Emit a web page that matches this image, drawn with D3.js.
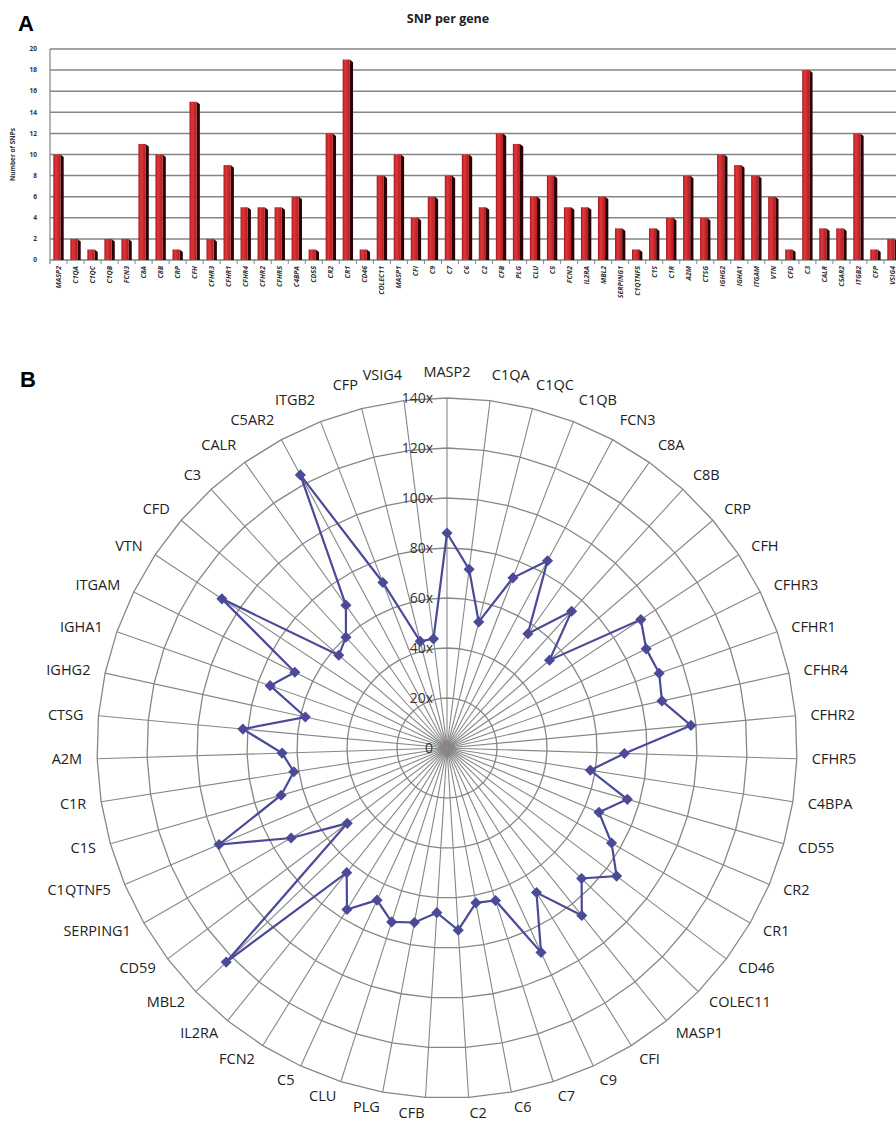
<!DOCTYPE html>
<html>
<head>
<meta charset="utf-8">
<script src="https://cdn.jsdelivr.net/npm/d3@7"></script>
<style>
  body { margin: 0; background: #fff; }
  svg { display: block; }
</style>
</head>
<body>
<script>
// ---- panel A data ----
var barGenes = ["MASP2","C1QA","C1QC","C1QB","FCN3","C8A","C8B","CRP","CFH","CFHR3",
  "CFHR1","CFHR4","CFHR2","CFHR5","C4BPA","CD55","CR2","CR1","CD46","COLEC11",
  "MASP1","CFI","C9","C7","C6","C2","CFB","PLG","CLU","C5",
  "FCN2","IL2RA","MBL2","SERPING1","C1QTNF5","C1S","C1R","A2M","CTSG","IGHG2",
  "IGHA1","ITGAM","VTN","CFD","C3","CALR","C5AR2","ITGB2","CFP","VSIG4"]
var snpCounts = [10,2,1,2,2,11,10,1,15,2,
  9,5,5,5,6,1,12,19,1,8,
  10,4,6,8,10,5,12,11,6,8,
  5,5,6,3,1,3,4,8,4,10,
  9,8,6,1,18,3,3,12,1,2]
var barTicks = [0,2,4,6,8,10,12,14,16,18,20]

// ---- panel B data ----
var radarGenes = ["MASP2","C1QA","C1QC","C1QB","FCN3","C8A","C8B","CRP","CFH","CFHR3",
  "CFHR1","CFHR4","CFHR2","CFHR5","C4BPA","CD55","CR2","CR1","CD46","COLEC11",
  "MASP1","CFI","C9","C7","C6","C2","CFB","PLG","CLU","C5",
  "FCN2","IL2RA","MBL2","CD59","SERPING1","C1QTNF5","C1S","C1R","A2M","CTSG",
  "IGHG2","IGHA1","ITGAM","VTN","CFD","C3","CALR","C5AR2","ITGB2","CFP","VSIG4"]
var coverage = [86,72,52,73,85,56,74,54,93,89,
  90,88,98,71,58,75,66,76,85,75,
  86,68,90,64,63,73,66,71,73,67,
  76,64,123,50,72,99,69,62,66,82,
  58,75,68,108,57,60,70,124,71,44,44]
var ringTicks = [0,20,40,60,80,100,120,140]

var svg = d3.select("body").append("svg")
  .attr("width", 896)
  .attr("height", 1127)

// ================= A: bar chart =================
var x = d3.scaleBand().domain(barGenes).range([50, 901])
var y = d3.scaleLinear().domain([0, 20]).range([260, 49])

var gA = svg.append("g")

gA.append("text")
  .attr("x", 18).attr("y", 31)
  .attr("font-family", "Liberation Sans, Arial, sans-serif")
  .attr("font-weight", "bold")
  .attr("font-size", 22)
  .text("A")

gA.append("text")
  .attr("x", 448).attr("y", 23)
  .attr("text-anchor", "middle")
  .attr("font-family", "Open Sans, sans-serif")
  .attr("font-weight", "bold")
  .attr("font-size", 12.5)
  .attr("fill", "#222")
  .text("SNP per gene")

// gridlines
gA.selectAll("line.grid")
  .data(barTicks)
  .enter().append("line")
  .attr("class", "grid")
  .attr("x1", 50).attr("x2", 896)
  .attr("y1", function(d) { return y(d) })
  .attr("y2", function(d) { return y(d) })
  .attr("stroke", "#858585")
  .attr("stroke-width", 1.5)

gA.append("line")
  .attr("x1", 50).attr("x2", 50)
  .attr("y1", y(20)).attr("y2", y(0) + 4)
  .attr("stroke", "#858585").attr("stroke-width", 1.2)

// x tick marks between bars
gA.selectAll("line.xtick")
  .data(barGenes)
  .enter().append("line")
  .attr("class", "xtick")
  .attr("x1", function(d) { return x(d) + x.bandwidth() })
  .attr("x2", function(d) { return x(d) + x.bandwidth() })
  .attr("y1", y(0)).attr("y2", y(0) + 4)
  .attr("stroke", "#858585").attr("stroke-width", 1)

// y tick labels
gA.selectAll("text.ytick")
  .data(barTicks)
  .enter().append("text")
  .attr("class", "ytick")
  .attr("x", 37)
  .attr("y", function(d) { return y(d) })
  .attr("dy", "0.35em")
  .attr("text-anchor", "end")
  .attr("font-family", "Open Sans, sans-serif")
  .attr("font-weight", "bold")
  .attr("font-size", 6.5)
  .attr("fill", "#333")
  .text(function(d) { return d })

gA.append("text")
  .attr("transform", "translate(15," + y(10) + ") rotate(-90)")
  .attr("text-anchor", "middle")
  .attr("font-family", "Open Sans, sans-serif")
  .attr("font-weight", "bold")
  .attr("font-size", 6.5)
  .attr("fill", "#333")
  .text("Number of SNPs")

// 3D-ish bars
var defs = svg.append("defs")
var grad = defs.append("linearGradient").attr("id", "barFront")
  .attr("x1", "0").attr("x2", "1").attr("y1", "0").attr("y2", "0")
grad.append("stop").attr("offset", "0%").attr("stop-color", "#a8181c")
grad.append("stop").attr("offset", "35%").attr("stop-color", "#e0363a")
grad.append("stop").attr("offset", "100%").attr("stop-color", "#b11c20")

var bw = x.bandwidth()
var frontW = bw * 0.42
var depth = bw * 0.19
var off = (bw - frontW - depth) / 2

var bars = gA.selectAll("g.bar")
  .data(barGenes)
  .enter().append("g")
  .attr("class", "bar")

bars.append("path")
  .attr("fill", "#2a0405")
  .attr("d", function(d, i) {
    var x0 = x(d) + off + frontW, top = y(snpCounts[i])
    return "M" + x0 + "," + top + "L" + (x0 + depth) + "," + (top + depth * 0.8) +
      "L" + (x0 + depth) + "," + y(0) + "L" + x0 + "," + y(0) + "Z"
  })

bars.append("rect")
  .attr("x", function(d) { return x(d) + off })
  .attr("y", function(d, i) { return y(snpCounts[i]) })
  .attr("width", frontW)
  .attr("height", function(d, i) { return y(0) - y(snpCounts[i]) })
  .attr("fill", "url(#barFront)")

// rotated italic gene labels
gA.selectAll("text.xlab")
  .data(barGenes)
  .enter().append("text")
  .attr("class", "xlab")
  .attr("transform", function(d) {
    return "translate(" + (x(d) + bw / 2 + 2.5) + "," + (y(0) + 6) + ") rotate(-90)"
  })
  .attr("text-anchor", "end")
  .attr("font-family", "Open Sans, sans-serif")
  .attr("font-style", "italic")
  .attr("font-weight", "bold")
  .attr("font-size", 7)
  .attr("fill", "#333")
  .text(function(d) { return d })

// ================= B: radar chart =================
var cx = 447, cy = 748
var r = d3.scaleLinear().domain([0, 140]).range([0, 350])
var n = radarGenes.length
function ang(i) { return i * 2 * Math.PI / n }

var gB = svg.append("g")

gB.append("text")
  .attr("x", 20).attr("y", 387)
  .attr("font-family", "Liberation Sans, Arial, sans-serif")
  .attr("font-weight", "bold")
  .attr("font-size", 22)
  .text("B")

var ringLine = d3.lineRadial()
  .angle(function(d, i) { return ang(i) })
  .radius(function(d) { return d })
  .curve(d3.curveLinearClosed)

// rings
gB.selectAll("path.ring")
  .data(ringTicks.slice(1))
  .enter().append("path")
  .attr("class", "ring")
  .attr("transform", "translate(" + cx + "," + cy + ")")
  .attr("d", function(v) { return ringLine(radarGenes.map(function() { return r(v) })) })
  .attr("fill", "none")
  .attr("stroke", "#878787")
  .attr("stroke-width", 1.3)

// spokes
gB.selectAll("line.spoke")
  .data(radarGenes)
  .enter().append("line")
  .attr("class", "spoke")
  .attr("x1", cx).attr("y1", cy)
  .attr("x2", function(d, i) { return cx + r(140) * Math.sin(ang(i)) })
  .attr("y2", function(d, i) { return cy - r(140) * Math.cos(ang(i)) })
  .attr("stroke", "#878787")
  .attr("stroke-width", 1.1)

// ring labels
gB.selectAll("text.ringlab")
  .data(ringTicks)
  .enter().append("text")
  .attr("class", "ringlab")
  .attr("x", cx - 14)
  .attr("y", function(v) { return cy - r(v) })
  .attr("dy", "0.36em")
  .attr("text-anchor", "end")
  .attr("font-family", "Open Sans, sans-serif")
  .attr("font-size", 14)
  .attr("fill", "#333")
  .text(function(v) { return v === 0 ? "0" : v + "x" })

// category labels
gB.selectAll("text.cat")
  .data(radarGenes)
  .enter().append("text")
  .attr("class", "cat")
  .attr("x", function(d, i) { return cx + 365 * Math.sin(ang(i)) })
  .attr("y", function(d, i) {
    var c = Math.cos(ang(i))
    return cy - 365 * c - 11 * Math.pow(Math.max(0, c), 4)
  })
  .attr("dy", "0.36em")
  .attr("text-anchor", function(d, i) {
    var s = Math.sin(ang(i))
    return s > 0.06 ? "start" : (s < -0.06 ? "end" : "middle")
  })
  .attr("font-family", "Open Sans, sans-serif")
  .attr("font-size", 14.5)
  .attr("fill", "#222")
  .text(function(d) { return d })

// series
var seriesLine = d3.lineRadial()
  .angle(function(d, i) { return ang(i) })
  .radius(function(d) { return r(d) })
  .curve(d3.curveLinearClosed)

gB.append("path")
  .attr("transform", "translate(" + cx + "," + cy + ")")
  .attr("d", seriesLine(coverage))
  .attr("fill", "none")
  .attr("stroke", "#4a4a98")
  .attr("stroke-width", 2.2)

gB.selectAll("path.marker")
  .data(coverage)
  .enter().append("path")
  .attr("class", "marker")
  .attr("d", d3.symbol(d3.symbolSquare).size(62))
  .attr("transform", function(d, i) {
    return "translate(" + (cx + r(d) * Math.sin(ang(i))) + "," + (cy - r(d) * Math.cos(ang(i))) + ") rotate(45)"
  })
  .attr("fill", "#4a4a98")

// grey centre marker
gB.append("path")
  .attr("d", d3.symbol(d3.symbolSquare).size(160))
  .attr("transform", "translate(" + cx + "," + cy + ") rotate(45)")
  .attr("fill", "#878787")
</script>
</body>
</html>
